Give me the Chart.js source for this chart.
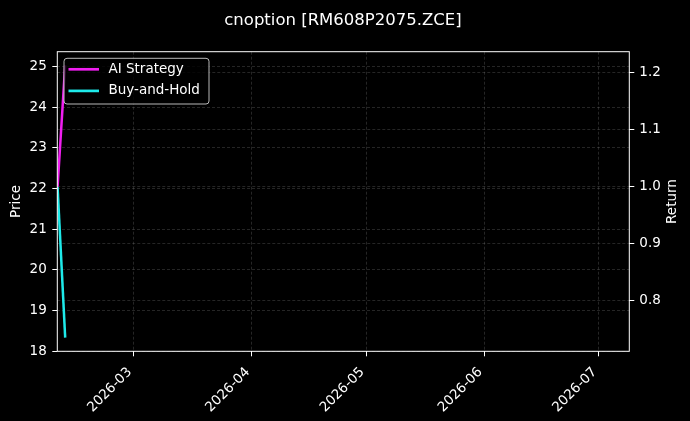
<!DOCTYPE html>
<html><head><meta charset="utf-8">
<script src="https://cdn.jsdelivr.net/npm/chart.js@4"></script>
<style>html,body{margin:0;padding:0;background:#000;overflow:hidden}#wrap{width:690px;height:421px}</style>
</head><body><div id="wrap"><canvas id="c" width="690" height="421"></canvas></div>
<script>
const titleText = 'cnoption [RM608P2075.ZCE]';
const dates = ['2026-02-09', '2026-02-11'];
const aiStrategy = [1.0, 1.213];
const buyAndHold = [1.0, 0.735];
const monthTicks = ['2026-03', '2026-04', '2026-05', '2026-06', '2026-07'];
const priceTicks = [18, 19, 20, 21, 22, 23, 24, 25];
const returnTicks = [0.8, 0.9, 1.0, 1.1, 1.2];
const priceRange = [18.0, 25.36];
const returnRange = [0.711, 1.237];
const dateRange = ['2026-02-08T22:20:00', '2026-07-09T00:00:00'];

function toMs(s) {
  if (s.length === 7) s += '-01';
  if (s.length === 10) s += 'T00:00:00';
  return Date.parse(s + 'Z');
}
const FONT = '"DejaVu Sans", sans-serif';
const seriesColors = {ai: '#f01ef0', bh: '#1eeaea'};

const overlay = {
  id: 'overlay',
  beforeDraw(chart) {
    const ctx = chart.ctx;
    ctx.save();
    ctx.fillStyle = '#000';
    ctx.fillRect(0, 0, chart.width, chart.height);
    ctx.restore();
  },
  afterDraw(chart) {
    const {ctx, chartArea: a} = chart;
    ctx.save();
    ctx.strokeStyle = '#fff';
    ctx.lineWidth = 1;
    ctx.strokeRect(a.left, a.top, a.right - a.left, a.bottom - a.top);
    ctx.fillStyle = '#fff';
    ctx.font = '16.5px ' + FONT;
    ctx.textAlign = 'center';
    ctx.textBaseline = 'alphabetic';
    ctx.fillText(titleText, 343, 25);
    ctx.font = '13.5px ' + FONT;
    ctx.textBaseline = 'middle';
    const midY = (a.top + a.bottom) / 2;
    ctx.save(); ctx.translate(16, midY); ctx.rotate(-Math.PI / 2); ctx.fillText('Price', 0, 0); ctx.restore();
    ctx.save(); ctx.translate(672, midY); ctx.rotate(-Math.PI / 2); ctx.fillText('Return', 0, 0); ctx.restore();
    // legend
    const lx = 64, ly = 58.3, lw = 145, lh = 45.7, r = 3;
    ctx.beginPath();
    ctx.moveTo(lx + r, ly);
    ctx.arcTo(lx + lw, ly, lx + lw, ly + lh, r);
    ctx.arcTo(lx + lw, ly + lh, lx, ly + lh, r);
    ctx.arcTo(lx, ly + lh, lx, ly, r);
    ctx.arcTo(lx, ly, lx + lw, ly, r);
    ctx.closePath();
    ctx.fillStyle = 'rgba(0,0,0,0.8)';
    ctx.fill();
    ctx.strokeStyle = 'rgba(204,204,204,0.9)';
    ctx.lineWidth = 1;
    ctx.stroke();
    const items = chart.data.datasets.map(d => [d.label, d.borderColor]);
    items.forEach(([label, col], i) => {
      const y = 69.3 + i * 21.6;
      ctx.strokeStyle = col;
      ctx.lineWidth = 2.7;
      ctx.beginPath(); ctx.moveTo(68.5, y); ctx.lineTo(99, y); ctx.stroke();
      ctx.fillStyle = '#fff';
      ctx.textAlign = 'left';
      ctx.fillText(label, 108.5, y);
    });
    ctx.restore();
  }
};

const gridCommon = {
  color: 'rgba(140,140,140,0.38)',
  lineWidth: 0.7,
  tickColor: '#fff',
  tickWidth: 1,
  tickLength: 5,
  tickBorderDash: [],
  drawTicks: true
};

new Chart(document.getElementById('c'), {
  type: 'line',
  data: {
    datasets: [
      {label: 'AI Strategy', data: dates.map((d, i) => ({x: toMs(d), y: aiStrategy[i]})),
       borderColor: seriesColors.ai, borderWidth: 2.5, pointRadius: 0, tension: 0, yAxisID: 'y1'},
      {label: 'Buy-and-Hold', data: dates.map((d, i) => ({x: toMs(d), y: buyAndHold[i]})),
       borderColor: seriesColors.bh, borderWidth: 2.5, pointRadius: 0, tension: 0, yAxisID: 'y1'}
    ]
  },
  options: {
    responsive: false,
    animation: false,
    devicePixelRatio: 1,
    layout: {padding: {top: 51.7, left: 0, right: 0, bottom: 0}},
    plugins: {legend: {display: false}, title: {display: false}, tooltip: {enabled: false}},
    scales: {
      x: {
        type: 'linear',
        min: toMs(dateRange[0]),
        max: toMs(dateRange[1]),
        afterBuildTicks: s => { s.ticks = monthTicks.map(m => ({value: toMs(m)})); },
        afterFit: s => { s.height = 421 - 351.3; },
        ticks: {
          autoSkip: false, minRotation: 45, maxRotation: 45, color: '#fff',
          font: {family: FONT, size: 13.5}, padding: 8, labelOffset: -4,
          callback: v => { const m = monthTicks.find(t => toMs(t) === v); return m || ''; }
        },
        grid: gridCommon,
        border: {display: false, dash: [3, 2]}
      },
      y: {
        position: 'left',
        min: priceRange[0], max: priceRange[1],
        afterBuildTicks: s => { s.ticks = priceTicks.map(v => ({value: v})); },
        afterFit: s => { s.width = 57.3; },
        ticks: {color: '#fff', font: {family: FONT, size: 13.5}, padding: 5.5, callback: v => String(v)},
        grid: gridCommon,
        border: {display: false, dash: [3, 2]}
      },
      y1: {
        position: 'right',
        min: returnRange[0], max: returnRange[1],
        afterBuildTicks: s => { s.ticks = returnTicks.map(v => ({value: v})); },
        afterFit: s => { s.width = 690 - 629.3; },
        ticks: {color: '#fff', font: {family: FONT, size: 13.5}, padding: 5, callback: v => Number(v).toFixed(1)},
        grid: gridCommon,
        border: {display: false, dash: [3, 2]}
      }
    }
  },
  plugins: [overlay]
});
</script>
</body></html>
